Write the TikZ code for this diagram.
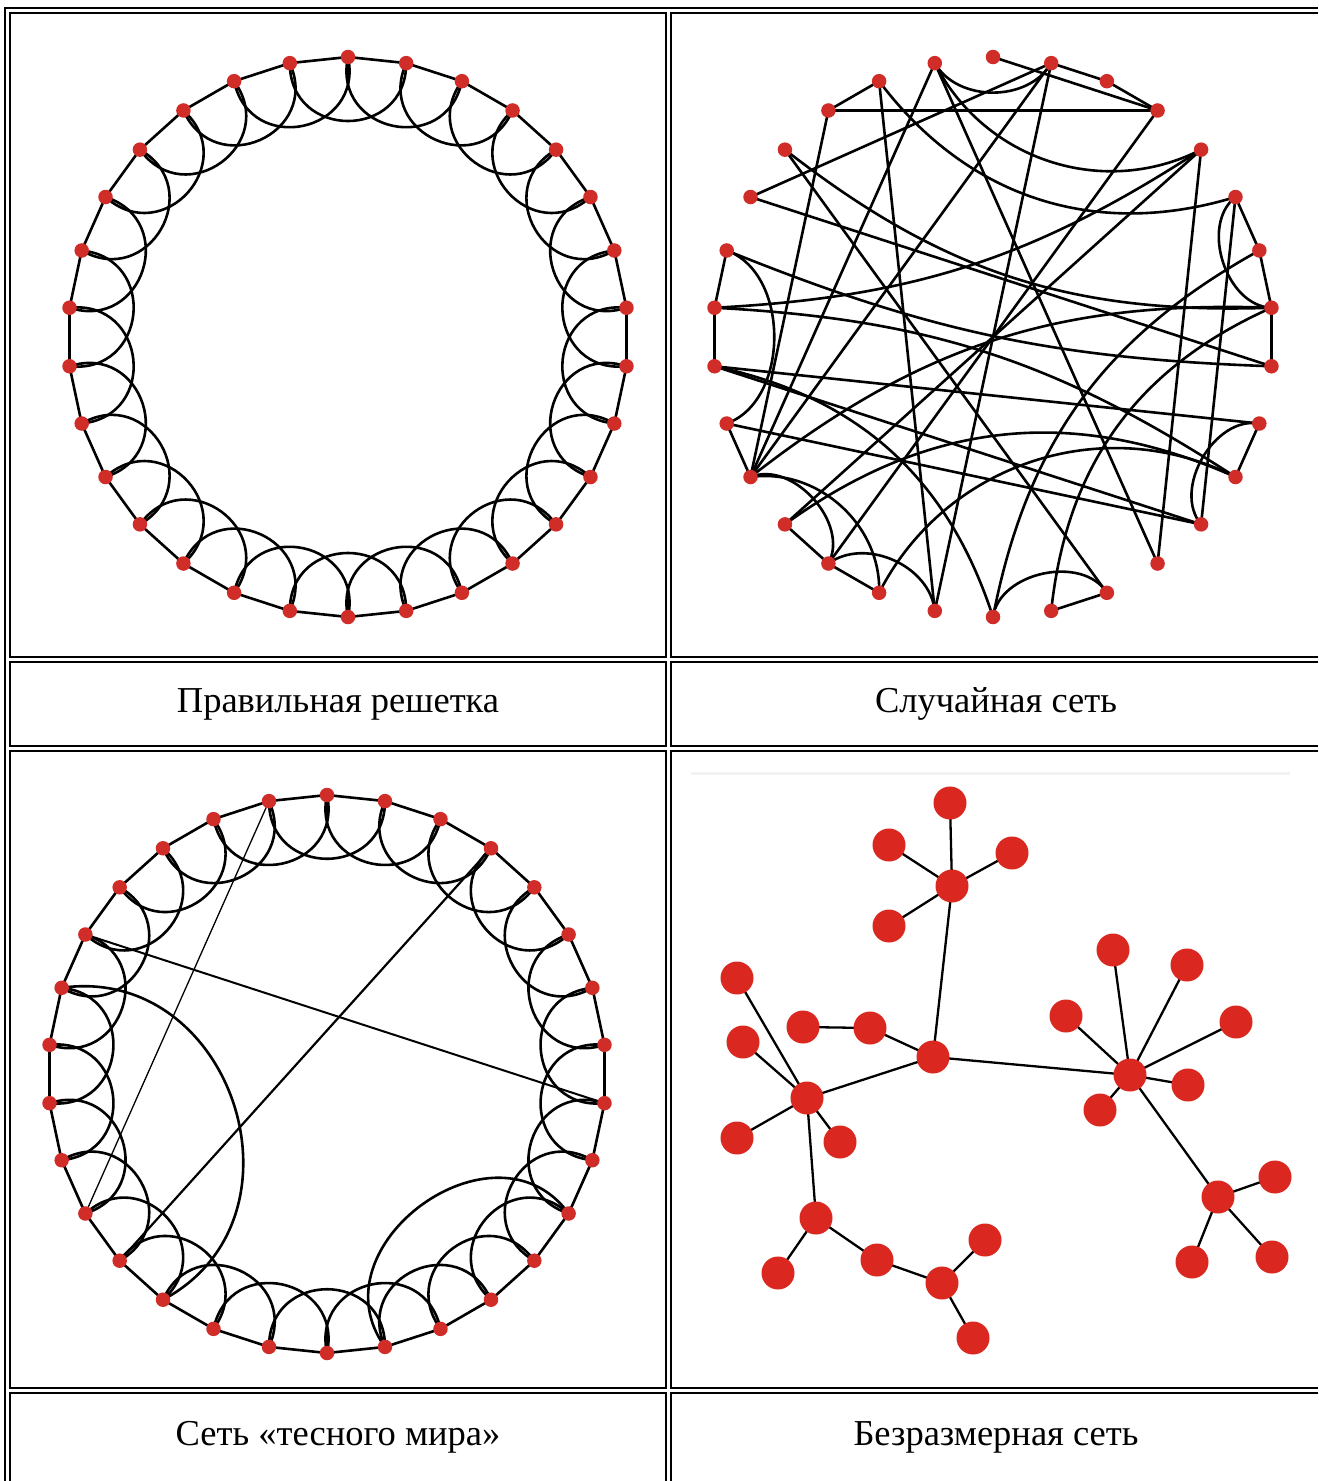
\documentclass[tikz,border=0pt]{standalone}
\usepackage{fontspec}
\setmainfont{Liberation Serif}
\definecolor{nodered}{RGB}{208,44,40}
\definecolor{bigred}{RGB}{218,40,32}
\begin{document}
\begin{tikzpicture}[x=1pt,y=1pt,
  edge/.style={line width=2.6pt, black},
  thinedge/.style={line width=1.3pt, black},
  rdot/.style={circle, fill=nodered, inner sep=0pt, minimum size=14.5pt},
  bdot/.style={circle, fill=bigred, inner sep=0pt, minimum size=33pt},
  frame/.style={line width=1.7pt, black},
  captext/.style={font=\fontsize{36.5}{40}\selectfont}]
\useasboundingbox (0,0) rectangle (1318,-1481);
\fill[white] (0,0) rectangle (1318,-1481);

% ---------- table frame ----------
\draw[frame] (5,-1481) -- (5,-8) -- (1318,-8);
\draw[line width=2.4pt] (5,-33) -- (5,-1481);
\draw[frame] (10,-13) rectangle (666,-657);
\draw[frame] (1318,-13) -- (671,-13) -- (671,-657) -- (1318,-657);
\draw[frame] (10,-662) rectangle (666,-746);
\draw[frame] (1318,-662) -- (671,-662) -- (671,-746) -- (1318,-746);
\draw[frame] (10,-751) rectangle (666,-1388);
\draw[frame] (1318,-751) -- (671,-751) -- (671,-1388) -- (1318,-1388);
\draw[frame] (10,-1485) -- (10,-1393) -- (666,-1393) -- (666,-1485);
\draw[frame] (1318,-1393) -- (671,-1393) -- (671,-1485);

% ---------- regular lattice ----------
\foreach \i in {0,...,29} \path (348,-337) ++({90-12*\i}:280) coordinate (a\i);
\foreach \i in {0,...,29} {
  \pgfmathtruncatemacro\j{mod(\i+1,30)}
  \pgfmathtruncatemacro\k{mod(\i+2,30)}
  \draw[edge] (a\i) -- (a\j);
  \draw[edge] (a\i) to[bend right=90, looseness=1.7] (a\k);
}
\foreach \i in {0,...,29} \node[rdot] (da\i) at (a\i) {};

% ---------- random network ----------
\foreach \i in {0,...,29} \path (993,-337) ++({90-12*\i}:280) coordinate (r\i);
\foreach \p/\q in {27/28,1/2,2/3,27/3,28/16,29/12,0/3,20/29,20/1,16/1,19/4,18/3,
  22/9,22/11,21/11,25/8,4/12,5/11,5/6,6/7,7/8,9/10,13/14,21/20,22/23,23/24,
  19/18,18/17,25/1,26/13,27/20}
  \draw[edge] (r\p) -- (r\q);
\foreach \p/\q/\b in {29/1/60,29/4/45,21/24/70,18/20/70,17/20/50,16/18/60,13/15/70,
  28/5/35,5/7/70,26/7/20,23/4/15,24/8/10,10/23/15,6/15/25,7/20/20,10/17/45,
  10/19/30,9/11/70,7/14/30,15/22/30}
  \draw[edge] (r\p) to[bend right=\b] (r\q);
\foreach \i in {0,...,29} \node[rdot] (dr\i) at (r\i) {};

% ---------- small world ----------
\foreach \i in {0,...,29} \path (327,-1074) ++({90-12*\i}:279) coordinate (s\i);
\foreach \i in {0,...,29} {
  \pgfmathtruncatemacro\j{mod(\i+1,30)}
  \pgfmathtruncatemacro\k{mod(\i+2,30)}
  \draw[edge] (s\i) -- (s\j);
  \draw[edge] (s\i) to[bend right=90, looseness=1.7] (s\k);
}
\draw[line width=2pt] (s25) -- (s8);
\draw[thinedge] (s29) -- (s20);
\draw[line width=2.2pt] (s3) -- (s19);
\draw[edge] (s18) to[bend right=80, looseness=1.35] (s24);
\draw[edge] (s10) to[bend right=90, looseness=1.4] (s14);
\foreach \i in {0,...,29} \node[rdot] (ds\i) at (s\i) {};

% ---------- scale-free ----------
\draw[gray!10, line width=3pt] (691,-773) -- (1290,-773);
\coordinate (A) at (933,-1057);
\coordinate (B) at (952,-886);
\coordinate (B1) at (950,-803);
\coordinate (B2) at (889,-845);
\coordinate (B3) at (1012,-853);
\coordinate (B4) at (889,-926);
\coordinate (C) at (807,-1098);
\coordinate (C1) at (737,-978);
\coordinate (C2) at (743,-1042);
\coordinate (C3) at (737,-1138);
\coordinate (C4) at (840,-1142);
\coordinate (L1) at (803,-1027);
\coordinate (L2) at (870,-1028);
\coordinate (D) at (816,-1218);
\coordinate (D1) at (778,-1273);
\coordinate (D2) at (877,-1260);
\coordinate (E) at (942,-1283);
\coordinate (E1) at (985,-1240);
\coordinate (E2) at (973,-1338);
\coordinate (F) at (1130,-1075);
\coordinate (F1) at (1113,-950);
\coordinate (F2) at (1187,-965);
\coordinate (F3) at (1066,-1016);
\coordinate (F4) at (1236,-1022);
\coordinate (F5) at (1188,-1085);
\coordinate (F6) at (1100,-1110);
\coordinate (G) at (1218,-1197);
\coordinate (G1) at (1275,-1177);
\coordinate (G2) at (1192,-1262);
\coordinate (G3) at (1272,-1257);
\foreach \p/\q in {A/B,B/B1,B/B2,B/B3,B/B4,A/C,A/F,A/L2,C/C1,C/C2,C/C3,C/C4,L1/L2,
  C/D,D/D1,D/D2,D2/E,E/E1,E/E2,F/F1,F/F2,F/F3,F/F4,F/F5,F/F6,F/G,G/G1,G/G2,G/G3}
  \draw[line width=2.3pt] (\p) -- (\q);
\foreach \n in {A,B,B1,B2,B3,B4,C,C1,C2,C3,C4,L1,L2,D,D1,D2,E,E1,E2,F,F1,F2,F3,F4,F5,F6,G,G1,G2,G3}
  \node[bdot] (n\n) at (\n) {};

% ---------- captions ----------
\node[captext] (t1) at (338,-704) {Правильная решетка};
\node[captext] (t2) at (996,-704) {Случайная сеть};
\node[captext] (t3) at (338,-1437) {Сеть «тесного мира»};
\node[captext] (t4) at (996,-1437) {Безразмерная сеть};
\end{tikzpicture}
\end{document}
